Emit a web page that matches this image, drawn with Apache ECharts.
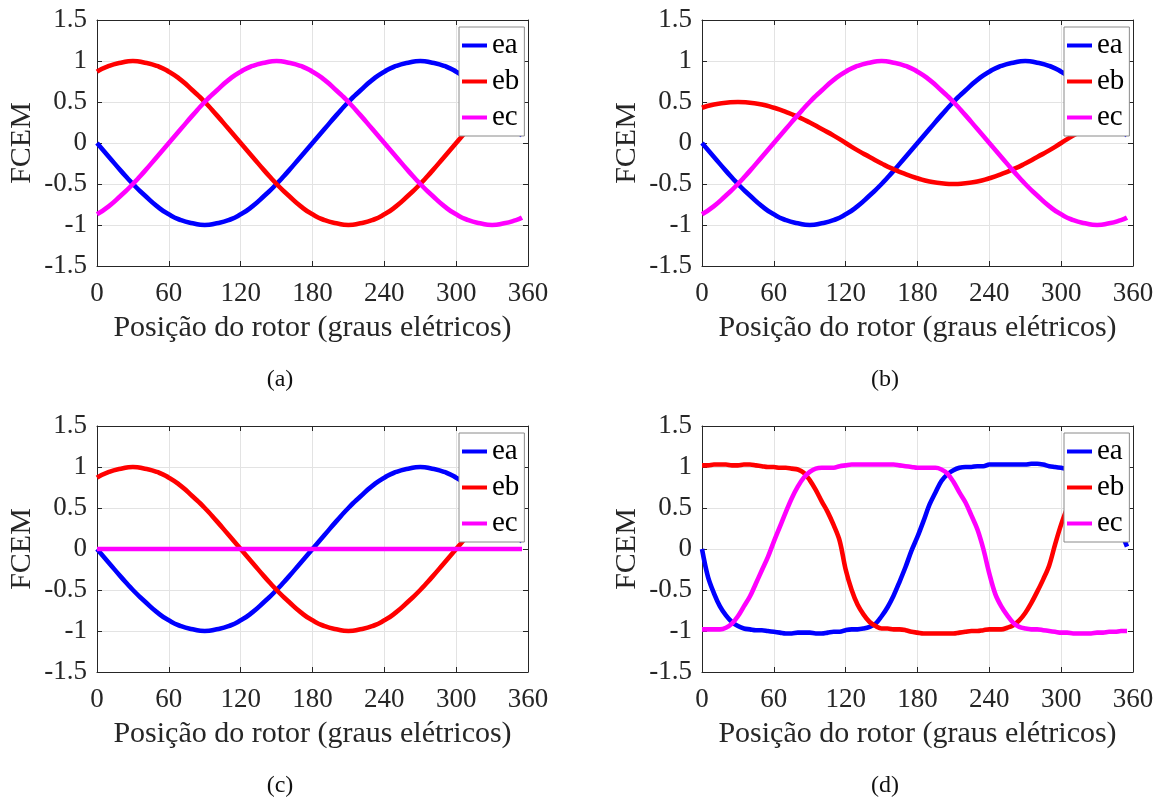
<!DOCTYPE html>
<html>
<head>
<meta charset="utf-8">
<script src="https://cdn.jsdelivr.net/npm/echarts@6/dist/echarts.min.js"></script>
<style>
  html, body { margin: 0; padding: 0; background: #fff; }
  #main { width: 1165px; height: 801px; }
</style>
</head>
<body>
<div id="main"></div>
<script>
// eixos
const xTicks = [0, 60, 120, 180, 240, 300, 360];
const yTicks = [-1.5, -1, -0.5, 0, 0.5, 1, 1.5];
const names = ["ea", "eb", "ec"];
const captions = ["(a)", "(b)", "(c)", "(d)"];

// posicao (graus) - figuras a, b, c
const deg = [0, 10, 20, 30, 40, 50, 60, 70, 80, 90, 100, 110, 120, 130, 140, 150, 160, 170,
  180, 190, 200, 210, 220, 230, 240, 250, 260, 270, 280, 290, 300, 310, 320, 330, 340, 350, 355];

// FCEM senoidais
const eaSin = [0, -0.17, -0.34, -0.5, -0.64, -0.77, -0.87, -0.94, -0.98, -1, -0.98, -0.94, -0.87, -0.77, -0.64, -0.5, -0.34, -0.17,
  0, 0.17, 0.34, 0.5, 0.64, 0.77, 0.87, 0.94, 0.98, 1, 0.98, 0.94, 0.87, 0.77, 0.64, 0.5, 0.34, 0.17, 0.09];
const ebSin = [0.87, 0.94, 0.98, 1, 0.98, 0.94, 0.87, 0.77, 0.64, 0.5, 0.34, 0.17, 0, -0.17, -0.34, -0.5, -0.64, -0.77,
  -0.87, -0.94, -0.98, -1, -0.98, -0.94, -0.87, -0.77, -0.64, -0.5, -0.34, -0.17, 0, 0.17, 0.34, 0.5, 0.64, 0.77, 0.82];
const ebHalf = [0.43, 0.47, 0.49, 0.5, 0.49, 0.47, 0.43, 0.38, 0.32, 0.25, 0.17, 0.09, 0, -0.09, -0.17, -0.25, -0.32, -0.38,
  -0.43, -0.47, -0.49, -0.5, -0.49, -0.47, -0.43, -0.38, -0.32, -0.25, -0.17, -0.09, 0, 0.09, 0.17, 0.25, 0.32, 0.38, 0.41];
const ecSin = [-0.87, -0.77, -0.64, -0.5, -0.34, -0.17, 0, 0.17, 0.34, 0.5, 0.64, 0.77, 0.87, 0.94, 0.98, 1, 0.98, 0.94,
  0.87, 0.77, 0.64, 0.5, 0.34, 0.17, 0, -0.17, -0.34, -0.5, -0.64, -0.77, -0.87, -0.94, -0.98, -1, -0.98, -0.94, -0.91];
const ecZero = [0, 0, 0, 0, 0, 0, 0, 0, 0, 0, 0, 0, 0, 0, 0, 0, 0, 0,
  0, 0, 0, 0, 0, 0, 0, 0, 0, 0, 0, 0, 0, 0, 0, 0, 0, 0, 0];

// posicao (graus) - figura d
const degD = [0, 5, 10, 15, 20, 25, 30, 35, 40, 45, 50, 55, 60, 65, 70, 75, 80, 85, 90, 95, 100, 105, 110, 115,
  120, 125, 130, 135, 140, 145, 150, 155, 160, 165, 170, 175, 180, 185, 190, 195, 200, 205, 210, 215, 220, 225, 230, 235,
  240, 245, 250, 255, 260, 265, 270, 275, 280, 285, 290, 295, 300, 305, 310, 315, 320, 325, 330, 335, 340, 345, 350, 355];

// FCEM trapezoidais
const eaTrap = [0, -0.34, -0.54, -0.7, -0.81, -0.89, -0.94, -0.97, -0.98, -0.99, -0.99, -1, -1.01, -1.02, -1.03, -1.03, -1.02, -1.02,
  -1.02, -1.03, -1.03, -1.02, -1.01, -1.01, -0.99, -0.98, -0.98, -0.97, -0.95, -0.91, -0.82, -0.71, -0.57, -0.4, -0.22, -0.02,
  0.15, 0.34, 0.54, 0.69, 0.83, 0.91, 0.96, 0.99, 1, 1, 1.01, 1.01, 1.03, 1.03, 1.03, 1.03, 1.03, 1.03,
  1.03, 1.04, 1.04, 1.03, 1.01, 1, 0.99, 0.98, 0.98, 0.97, 0.95, 0.91, 0.83, 0.71, 0.56, 0.39, 0.21, 0.03];
const ebTrap = [1.02, 1.02, 1.03, 1.03, 1.03, 1.02, 1.02, 1.03, 1.03, 1.02, 1.01, 1, 1, 0.99, 0.99, 0.98, 0.97, 0.93,
  0.84, 0.72, 0.58, 0.45, 0.29, 0.1, -0.25, -0.5, -0.68, -0.8, -0.89, -0.94, -0.97, -0.97, -0.98, -0.98, -0.99, -1.01,
  -1.02, -1.03, -1.03, -1.03, -1.03, -1.03, -1.03, -1.02, -1.01, -1, -1, -0.99, -0.98, -0.98, -0.98, -0.96, -0.93, -0.87,
  -0.78, -0.66, -0.52, -0.37, -0.2, 0.06, 0.3, 0.5, 0.68, 0.82, 0.91, 0.96, 0.98, 0.99, 1, 1.01, 1.01, 1.01];
const ecTrap = [-0.98, -0.98, -0.98, -0.98, -0.96, -0.91, -0.82, -0.7, -0.58, -0.42, -0.26, -0.1, 0.09, 0.27, 0.45, 0.62, 0.76, 0.87,
  0.94, 0.98, 0.99, 0.99, 0.99, 1.01, 1.02, 1.03, 1.03, 1.03, 1.03, 1.03, 1.03, 1.03, 1.03, 1.02, 1.01, 1,
  0.99, 0.99, 0.99, 0.99, 0.97, 0.92, 0.82, 0.69, 0.57, 0.41, 0.24, 0, -0.3, -0.55, -0.7, -0.81, -0.9, -0.95,
  -0.97, -0.98, -0.98, -0.99, -1, -1.01, -1.02, -1.02, -1.03, -1.03, -1.03, -1.03, -1.02, -1.02, -1.01, -1.01, -1, -1];

// cada painel: x, curvas ea/eb/ec
const panelData = [
  [deg, eaSin, ebSin, ecSin],
  [deg, eaSin, ebHalf, ecSin],
  [deg, eaSin, ebSin, ecZero],
  [degD, eaTrap, ebTrap, ecTrap]
];

const colors = ["#0000ff", "#ff0000", "#ff00ff"];
const font = "Liberation Serif";
const axisColor = "#262626";

// posicao dos graficos
const boxes = [
  { left: 97, top: 20 },
  { left: 702, top: 20 },
  { left: 97, top: 426 },
  { left: 702, top: 426 }
];
const boxW = 431, boxH = 246;

const chart = echarts.init(document.getElementById("main"));

let grid = [], xAxis = [], yAxis = [], series = [], legend = [], graphic = [];

boxes.forEach((b, i) => {
  grid.push({ left: b.left, top: b.top, width: boxW, height: boxH, containLabel: false });

  // eixo principal x
  xAxis.push({
    gridIndex: i,
    type: "value",
    min: xTicks[0],
    max: xTicks[xTicks.length - 1],
    interval: xTicks[1] - xTicks[0],
    name: "Posição do rotor (graus elétricos)",
    nameLocation: "middle",
    nameGap: 47,
    nameTextStyle: { fontFamily: font, fontSize: 30, color: axisColor },
    axisLine: { show: true, onZero: false, lineStyle: { color: axisColor, width: 1 } },
    axisTick: { show: true, inside: true, length: 5, lineStyle: { color: axisColor } },
    axisLabel: { fontFamily: font, fontSize: 27, color: axisColor, margin: 14 },
    splitLine: { show: true, lineStyle: { color: "#e3e3e3", width: 1 } }
  });
  // eixo principal y
  yAxis.push({
    gridIndex: i,
    type: "value",
    min: yTicks[0],
    max: yTicks[yTicks.length - 1],
    interval: yTicks[1] - yTicks[0],
    name: "FCEM",
    nameLocation: "middle",
    nameGap: 60,
    nameTextStyle: { fontFamily: font, fontSize: 30, color: axisColor },
    axisLine: { show: true, onZero: false, lineStyle: { color: axisColor, width: 1 } },
    axisTick: { show: true, inside: true, length: 5, lineStyle: { color: axisColor } },
    axisLabel: { fontFamily: font, fontSize: 27, color: axisColor, margin: 10, padding: [3, 0, 0, 0] },
    splitLine: { show: true, lineStyle: { color: "#e3e3e3", width: 1 } }
  });

  let [xs, ea, eb, ec] = panelData[i];
  [ea, eb, ec].forEach((ys, k) => {
    series.push({
      name: names[k],
      type: "line",
      xAxisIndex: i,
      yAxisIndex: i,
      data: xs.map((x, j) => [x, ys[j]]),
      smooth: i === 3 ? 0.35 : 0.6,
      showSymbol: false,
      symbol: "none",
      lineStyle: { color: colors[k], width: 4.6 },
      itemStyle: { color: colors[k] },
      emphasis: { disabled: true },
      z: 2 + k
    });
  });

  legend.push({
    data: names,
    orient: "vertical",
    left: b.left + 362,
    top: b.top + 7,
    icon: "rect",
    itemWidth: 25,
    itemHeight: 4,
    itemGap: 7,
    padding: [4, 5, 4, 3],
    backgroundColor: "#fff",
    borderColor: "#8a8a8a",
    borderWidth: 1,
    borderRadius: 0,
    textStyle: { fontFamily: font, fontSize: 29, lineHeight: 28, color: "#000" }
  });

  graphic.push({
    type: "text",
    x: b.left + 183,
    y: b.top + 360,
    style: {
      text: captions[i],
      font: "24px 'Liberation Serif'",
      fill: "#111",
      align: "center",
      verticalAlign: "middle"
    }
  });
});

// eixos de cima e da direita (caixa)
boxes.forEach((b, i) => {
  xAxis.push({
    gridIndex: i,
    type: "value",
    position: "top",
    min: xTicks[0],
    max: xTicks[xTicks.length - 1],
    interval: xTicks[1] - xTicks[0],
    axisLine: { show: true, onZero: false, lineStyle: { color: axisColor, width: 1 } },
    axisTick: { show: true, inside: true, length: 5, lineStyle: { color: axisColor } },
    axisLabel: { show: false },
    splitLine: { show: false }
  });
  yAxis.push({
    gridIndex: i,
    type: "value",
    position: "right",
    min: yTicks[0],
    max: yTicks[yTicks.length - 1],
    interval: yTicks[1] - yTicks[0],
    axisLine: { show: true, onZero: false, lineStyle: { color: axisColor, width: 1 } },
    axisTick: { show: true, inside: true, length: 5, lineStyle: { color: axisColor } },
    axisLabel: { show: false },
    splitLine: { show: false }
  });
});

chart.setOption({
  animation: false,
  backgroundColor: "#fff",
  textStyle: { fontFamily: font },
  grid: grid,
  xAxis: xAxis,
  yAxis: yAxis,
  legend: legend,
  series: series,
  graphic: graphic
});
</script>
</body>
</html>
